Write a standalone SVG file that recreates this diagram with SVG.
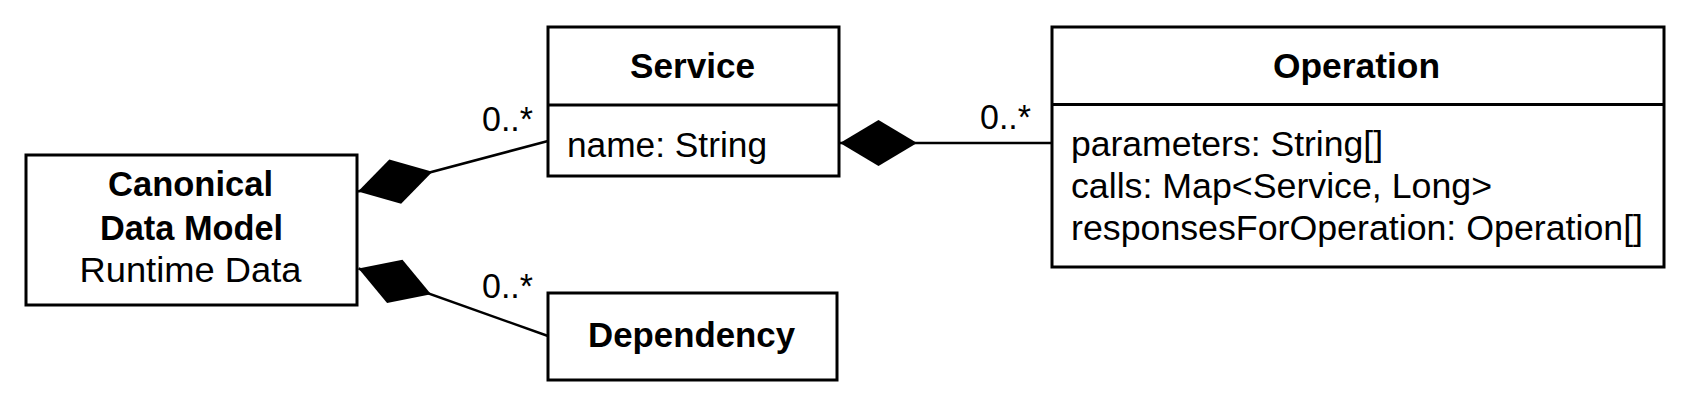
<svg xmlns="http://www.w3.org/2000/svg" width="1691" height="410" viewBox="0 0 1691 410">
<style>
.box{fill:#fff;stroke:#000;stroke-width:3}
.div{stroke:#000;stroke-width:3}
.t{font-family:"Liberation Sans",Arial,sans-serif;font-size:35.5px;fill:#000}
.b{font-weight:bold;text-anchor:middle}
.c{text-anchor:middle}
.edge{fill:none;stroke:#000;stroke-width:2.5;marker-start:url(#diamond)}
</style>
<defs>
<marker id="diamond" markerUnits="userSpaceOnUse" markerWidth="80" markerHeight="50" refX="0" refY="25" viewBox="0 0 80 50" orient="auto" overflow="visible">
<path d="M0,25 L38.5,2 L77,25 L38.5,48 Z" fill="#000"/>
</marker>
</defs>
<rect width="1691" height="410" fill="#fff"/>
<g id="connectors">
<path class="edge" d="M358,191.5 L548,141"/>
<path class="edge" d="M358.5,268.5 L548,336"/>
<path class="edge" d="M840,143 L1052,143"/>
<text class="t" x="482" y="131" textLength="51" lengthAdjust="spacingAndGlyphs">0..*</text>
<text class="t" x="980" y="128.5" textLength="51" lengthAdjust="spacingAndGlyphs">0..*</text>
<text class="t" x="482" y="298" textLength="51" lengthAdjust="spacingAndGlyphs">0..*</text>
</g>
<g id="canonical">
<rect class="box" x="26" y="155" width="331" height="150"/>
<text class="t b" x="190.5" y="196" textLength="165" lengthAdjust="spacingAndGlyphs">Canonical</text>
<text class="t b" x="191.5" y="240" textLength="183" lengthAdjust="spacingAndGlyphs">Data Model</text>
<text class="t c" x="190.5" y="282" textLength="222" lengthAdjust="spacingAndGlyphs">Runtime Data</text>
</g>
<g id="service">
<rect class="box" x="548" y="27" width="291" height="149"/>
<line class="div" x1="548" y1="105" x2="839" y2="105"/>
<text class="t b" x="692.5" y="78" textLength="125" lengthAdjust="spacingAndGlyphs">Service</text>
<text class="t" x="567" y="157" textLength="200" lengthAdjust="spacingAndGlyphs">name: String</text>
</g>
<g id="operation">
<rect class="box" x="1052" y="27" width="612" height="240"/>
<line class="div" x1="1052" y1="104.5" x2="1664" y2="104.5"/>
<text class="t b" x="1356.5" y="78" textLength="167" lengthAdjust="spacingAndGlyphs">Operation</text>
<text class="t" x="1071" y="156" textLength="312" lengthAdjust="spacingAndGlyphs">parameters: String[]</text>
<text class="t" x="1071" y="198" textLength="421" lengthAdjust="spacingAndGlyphs">calls: Map&lt;Service, Long&gt;</text>
<text class="t" x="1071" y="240" textLength="572" lengthAdjust="spacingAndGlyphs">responsesForOperation: Operation[]</text>
</g>
<g id="dependency">
<rect class="box" x="548" y="293" width="289" height="87"/>
<text class="t b" x="691.5" y="347" textLength="207" lengthAdjust="spacingAndGlyphs">Dependency</text>
</g>
</svg>
